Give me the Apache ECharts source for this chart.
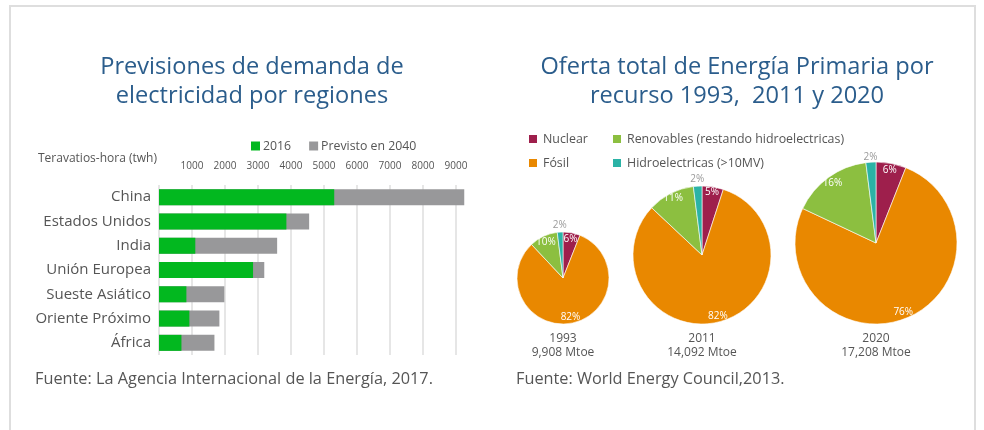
<!DOCTYPE html>
<html>
<head>
<meta charset="utf-8">
<script src="https://cdn.jsdelivr.net/npm/echarts@6/dist/echarts.min.js"></script>
<style>
  html, body { margin: 0; padding: 0; background: #fff; }
  #frame { position: absolute; left: 9px; top: 5px; width: 967px; height: 440px; border: 2px solid #dedede; box-sizing: border-box; }
  #chart { position: absolute; left: 0; top: 0; width: 984px; height: 430px; }
</style>
</head>
<body>
<div id="frame"></div>
<div id="chart"></div>
<script>
// ---- Data ----
const regiones = ['China', 'Estados Unidos', 'India', 'Unión Europea', 'Sueste Asiático', 'Oriente Próximo', 'África'];
const demanda2016 = [5310, 3860, 1100, 2850, 830, 920, 680];
const previsto2040 = [9250, 4550, 3580, 3190, 1980, 1830, 1680];

const fuentes = ['Nuclear', 'Fósil', 'Renovables (restando hidroelectricas)', 'Hidroelectricas (>10MV)'];
const oferta1993 = [6, 82, 10, 2];
const oferta2011 = [5, 82, 11, 2];
const oferta2020 = [6, 76, 16, 2];
const anios = ['1993', '2011', '2020'];
const totales = ['9,908 Mtoe', '14,092 Mtoe', '17,208 Mtoe'];

// ---- Styling ----
const FONT = '"Open Sans", Lato, sans-serif';
const TXT = '#555555';
const BLUE = '#2b5d8c';
const colores = ['#9e1f4c', '#e98800', '#8cbf40', '#2bb3a6'];

const pies = [
  { values: oferta1993, center: [563, 278], r: 46, inner: 28, outer: [44, 56] },
  { values: oferta2011, center: [702, 255], r: 69, inner: 52, outer: [67, 78] },
  { values: oferta2020, center: [876, 243], r: 81, inner: 61, outer: [79, 88] }
];

const series = [
  {
    name: 'Previsto en 2040', type: 'bar', data: previsto2040, barWidth: 16,
    itemStyle: { color: '#98989a' }, clip: false, silent: true, z: 2
  },
  {
    name: '2016', type: 'bar', data: demanda2016, barWidth: 16, barGap: '-100%',
    itemStyle: { color: '#02b81f' }, clip: false, silent: true, z: 3
  }
];

// visible pies first (legend colours come from the first matching series)
pies.forEach(p => {
  series.push({
    type: 'pie', center: p.center, radius: [0, p.r], startAngle: 90, clockwise: true,
    silent: true, label: { show: false }, labelLine: { show: false },
    itemStyle: { borderColor: '#ffffff', borderWidth: 0.6 },
    data: fuentes.map((n, i) => ({ name: n, value: p.values[i], itemStyle: { color: colores[i] } }))
  });
});
// label rings
pies.forEach(p => {
  series.push({
    type: 'pie', center: p.center, radius: [p.inner, p.r], startAngle: 90, clockwise: true,
    silent: true, labelLine: { show: false },
    itemStyle: { color: 'transparent', borderWidth: 0 },
    label: { position: 'inside', color: '#ffffff', fontSize: 10, fontFamily: FONT, formatter: '{c}%' },
    data: fuentes.map((n, i) => ({ name: n, value: p.values[i], label: { show: i !== 3 } }))
  });
  series.push({
    type: 'pie', center: p.center, radius: p.outer, startAngle: 90, clockwise: true,
    silent: true, labelLine: { show: false },
    itemStyle: { color: 'transparent', borderWidth: 0 },
    label: { position: 'inside', color: '#9a9a9a', fontSize: 10, fontFamily: FONT, formatter: '{c}%' },
    data: fuentes.map((n, i) => ({ name: n, value: p.values[i], label: { show: i === 3 } }))
  });
});

const titles = [
  { text: 'Previsiones de demanda de\nelectricidad por regiones', left: 252, top: 53, textAlign: 'center',
    textStyle: { color: BLUE, fontSize: 23.6, fontWeight: 'normal', lineHeight: 29, fontFamily: FONT } },
  { text: 'Oferta total de Energía Primaria por\nrecurso 1993,  2011 y 2020', left: 737, top: 53, textAlign: 'center',
    textStyle: { color: BLUE, fontSize: 23.6, fontWeight: 'normal', lineHeight: 29, fontFamily: FONT } },
  { text: 'Teravatios-hora (twh)', left: 38, top: 153,
    textStyle: { color: TXT, fontSize: 12, fontWeight: 'normal', fontFamily: FONT } },
  { text: 'Fuente: La Agencia Internacional de la Energía, 2017.', left: 35, top: 371,
    textStyle: { color: TXT, fontSize: 16.3, fontWeight: 'normal', fontFamily: FONT } },
  { text: 'Fuente: World Energy Council,2013.', left: 516, top: 371,
    textStyle: { color: TXT, fontSize: 16.3, fontWeight: 'normal', fontFamily: FONT } }
];
pies.forEach((p, k) => {
  titles.push({
    text: anios[k] + '\n' + totales[k], left: p.center[0], top: 332, textAlign: 'center',
    textStyle: { color: TXT, fontSize: 12, fontWeight: 'normal', lineHeight: 14, fontFamily: FONT }
  });
});
titles.forEach(t => { t.padding = 0; });

const option = {
  animation: false,
  backgroundColor: 'transparent',
  title: titles,
  legend: [
    { data: ['2016', 'Previsto en 2040'], left: 251, top: 140, padding: 0, itemWidth: 9, itemHeight: 9,
      itemGap: 18, icon: 'rect', selectedMode: false,
      textStyle: { color: TXT, fontSize: 12.3, fontFamily: FONT, padding: [0, 0, 0, -2] } },
    { data: [fuentes[0], fuentes[1]], orient: 'vertical', left: 527, top: 133, padding: 0,
      itemWidth: 10, itemHeight: 10, itemGap: 12, icon: 'rect', selectedMode: false,
      textStyle: { color: TXT, fontSize: 12.4, fontFamily: FONT } },
    { data: [fuentes[2], fuentes[3]], orient: 'vertical', left: 611, top: 133, padding: 0,
      itemWidth: 10, itemHeight: 10, itemGap: 12, icon: 'rect', selectedMode: false,
      textStyle: { color: TXT, fontSize: 12.4, fontFamily: FONT } }
  ],
  grid: { left: 159, top: 185, width: 297, height: 170, containLabel: false },
  xAxis: {
    type: 'value', position: 'top', min: 0, max: 9000, interval: 1000,
    axisLine: { show: false }, axisTick: { show: false },
    axisLabel: { color: TXT, fontSize: 10, fontFamily: FONT, margin: 14,
      formatter: v => (v === 0 ? '' : String(v)) },
    splitLine: { show: true, lineStyle: { color: '#e6e6e6', width: 2 } }
  },
  yAxis: {
    type: 'category', data: regiones, inverse: true,
    axisLine: { show: false }, axisTick: { show: false },
    axisLabel: { color: TXT, fontSize: 15, fontFamily: FONT, margin: 8 }
  },
  series: series
};

const chart = echarts.init(document.getElementById('chart'), null, { renderer: 'canvas' });
chart.setOption(option);
</script>
</body>
</html>
